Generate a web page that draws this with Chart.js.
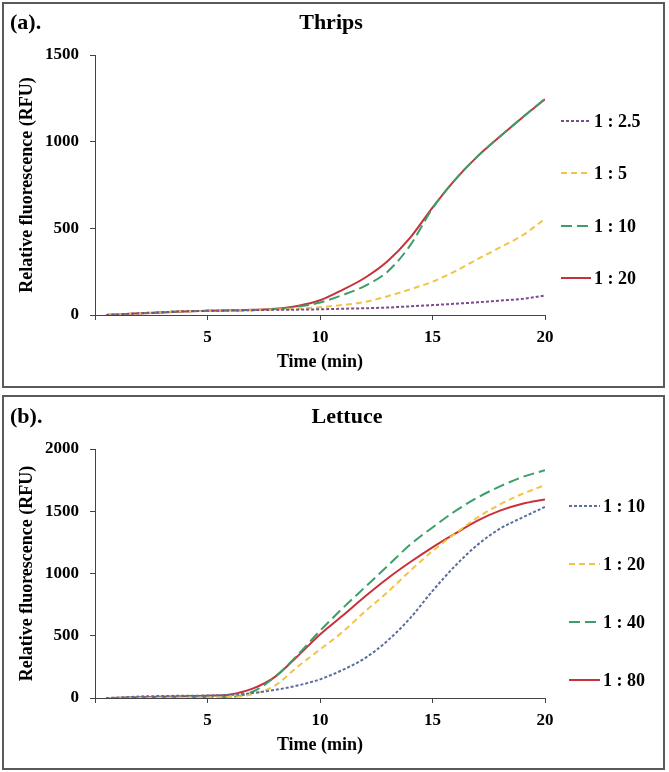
<!DOCTYPE html>
<html>
<head>
<meta charset="utf-8">
<style>
  body { margin: 0; background: #fff; }
  #wrap { position: relative; width: 669px; height: 772px; }
  .box { position: absolute; left: 2px; width: 663px; border: 2px solid #5a5a5a; box-sizing: border-box; }
  #boxA { top: 2px; height: 386px; }
  #boxB { top: 395px; height: 375px; }
  canvas { position: absolute; left: 0; }
  #chartA { top: 0; }
  #chartB { top: 385px; }
</style>
</head>
<body>
<div id="wrap">
  <div class="box" id="boxA"></div>
  <div class="box" id="boxB"></div>
  <canvas id="chartA" width="669" height="390"></canvas>
  <canvas id="chartB" width="669" height="387"></canvas>
</div>

<script src="https://cdn.jsdelivr.net/npm/chart.js"></script>

<script>
  // time (min), shared by both panels
  const time = [0.5, 1, 2, 3, 4, 5, 6, 7, 8, 9, 10, 11, 12, 13, 14, 15, 16, 17, 18, 19, 20];
  const xTicks = [5, 10, 15, 20];

  // (a) Thrips
  const thripsLabels = ['1 : 2.5', '1 : 5', '1 : 10', '1 : 20'];
  const thrips_2_5 = [0, 3, 10, 16, 22, 24, 26, 28, 30, 31, 33, 36, 39, 43, 50, 57, 65, 73, 83, 93, 112];
  const thrips_5   = [0, 3, 10, 16, 22, 24, 26, 28, 32, 36, 45, 58, 75, 108, 148, 192, 252, 322, 390, 460, 555];
  const thrips_10  = [0, 3, 10, 16, 22, 24, 26, 28, 34, 48, 72, 115, 168, 250, 400, 615, 780, 915, 1030, 1140, 1248];
  const thrips_20  = [0, 3, 10, 14, 20, 24, 27, 30, 36, 52, 85, 145, 215, 310, 445, 620, 780, 915, 1030, 1140, 1245];

  // (b) Lettuce
  const lettuceLabels = ['1 : 10', '1 : 20', '1 : 40', '1 : 80'];
  const lettuce_10 = [0, 3, 12, 16, 18, 20, 25, 40, 65, 100, 150, 225, 320, 460, 640, 860, 1060, 1230, 1360, 1450, 1535];
  const lettuce_20 = [0, 0, 2, 4, 5, 6, 8, 30, 100, 250, 390, 530, 695, 850, 1020, 1180, 1320, 1450, 1555, 1640, 1710];
  const lettuce_40 = [0, 0, 2, 4, 5, 6, 8, 50, 170, 345, 540, 720, 890, 1060, 1230, 1370, 1500, 1610, 1700, 1775, 1830];
  const lettuce_80 = [0, 2, 6, 10, 14, 18, 28, 75, 170, 335, 510, 660, 815, 960, 1090, 1210, 1320, 1425, 1505, 1560, 1595];

  const serif = '"Liberation Serif", "Times New Roman", serif';
  const axisCol = '#444';

  const styles = {
    purple: { color: '#7e4a8e', dash: [3, 2] },
    blue:   { color: '#5a6e9e', dash: [3, 2] },
    yellow: { color: '#f0c545', dash: [6, 4] },
    green:  { color: '#3c9e68', dash: [11, 5] },
    red:    { color: '#c8303a', dash: [] }
  };

  function toXY(vals) {
    return vals.map((v, i) => ({ x: time[i], y: v }));
  }

  // panel letter, title and legend drawn on the canvas
  const panelText = {
    id: 'panelText',
    afterDraw(chart) {
      const o = chart.options.plugins.panelText;
      const ctx = chart.ctx;
      ctx.save();
      ctx.fillStyle = '#000';
      ctx.textBaseline = 'middle';
      ctx.font = 'bold 22px ' + serif;
      ctx.textAlign = 'left';
      ctx.fillText(o.tag, 10, o.titleY);
      ctx.textAlign = 'center';
      ctx.fillText(o.title, o.titleX, o.titleY);

      ctx.font = 'bold 18px ' + serif;
      ctx.textAlign = 'left';
      chart.data.datasets.forEach((ds, i) => {
        const y = o.legendY[i];
        ctx.beginPath();
        ctx.strokeStyle = ds.borderColor;
        ctx.lineWidth = 2;
        ctx.setLineDash(ds.borderDash);
        ctx.moveTo(o.legendX1, y);
        ctx.lineTo(o.legendX2, y);
        ctx.stroke();
        ctx.setLineDash([]);
        ctx.fillText(ds.label, o.legendX2 + 3, y + 1);
      });
      ctx.restore();
    }
  };

  function makeChart(id, labels, series, sty, yMax, cfg) {
    const canvas = document.getElementById(id);
    const H = canvas.height;
    const datasets = series.map((s, i) => ({
      label: labels[i],
      data: toXY(s),
      borderColor: sty[i].color,
      borderDash: sty[i].dash,
      borderWidth: 2,
      pointRadius: 0,
      fill: false,
      cubicInterpolationMode: 'monotone'
    }));
    return new Chart(canvas, {
      type: 'line',
      data: { datasets: datasets },
      options: {
        responsive: false,
        animation: false,
        layout: { padding: { left: 0, right: 124, top: cfg.top, bottom: 0 } },
        plugins: {
          legend: { display: false },
          tooltip: { enabled: false },
          panelText: cfg.text
        },
        scales: {
          x: {
            type: 'linear', min: 0, max: 20,
            afterBuildTicks: (s) => { s.ticks = [0].concat(xTicks).map(v => ({ value: v })); },
            afterFit: (s) => { s.height = H - cfg.bottom; },
            ticks: {
              color: '#000', padding: 7,
              font: { family: serif, size: 17, weight: 'bold' },
              callback: (v) => v === 0 ? '' : String(v)
            },
            grid: { drawOnChartArea: false, tickLength: 5, color: axisCol },
            border: { color: axisCol, width: 1 },
            title: {
              display: true, text: 'Time (min)', color: '#000',
              font: { family: serif, size: 18, weight: 'bold' },
              padding: { top: 0, bottom: cfg.xTitlePad }
            }
          },
          y: {
            min: 0, max: yMax,
            afterFit: (s) => { s.width = 95; },
            ticks: {
              stepSize: 500, color: '#000', padding: 11,
              font: { family: serif, size: 17, weight: 'bold' },
              callback: (v) => String(v)
            },
            grid: { drawOnChartArea: false, tickLength: 5, color: axisCol },
            border: { color: axisCol, width: 1 },
            title: {
              display: true, text: 'Relative fluorescence (RFU)', color: '#000',
              font: { family: serif, size: 18, weight: 'bold' },
              padding: { top: 17, bottom: 0 }
            }
          }
        }
      },
      plugins: [panelText]
    });
  }

  makeChart('chartA', thripsLabels,
    [thrips_2_5, thrips_5, thrips_10, thrips_20],
    [styles.purple, styles.yellow, styles.green, styles.red],
    1500,
    {
      top: 55, bottom: 315, xTitlePad: 17,
      text: { tag: '(a).', title: 'Thrips', titleX: 331, titleY: 23,
              legendX1: 561, legendX2: 591, legendY: [121, 173, 226, 278] }
    });

  makeChart('chartB', lettuceLabels,
    [lettuce_10, lettuce_20, lettuce_40, lettuce_80],
    [styles.blue, styles.yellow, styles.green, styles.red],
    2000,
    {
      top: 64, bottom: 313, xTitlePad: 16,
      text: { tag: '(b).', title: 'Lettuce', titleX: 347, titleY: 32,
              legendX1: 569, legendX2: 600, legendY: [121, 179, 237, 295] }
    });
</script>
</body>
</html>
